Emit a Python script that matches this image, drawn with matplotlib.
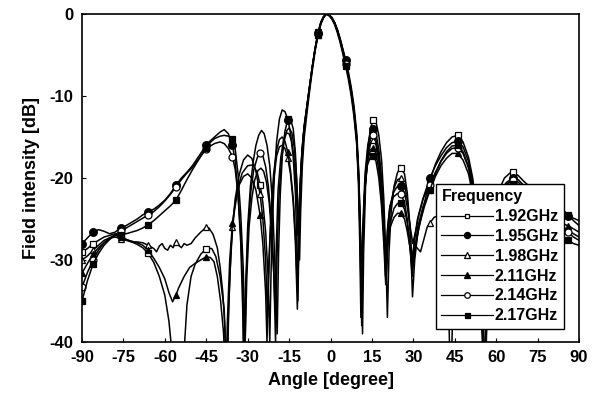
import matplotlib
matplotlib.use("Agg")
import matplotlib.pyplot as plt

plt.rcParams['font.family'] = ['Liberation Sans', 'DejaVu Sans']
plt.rcParams['font.weight'] = 'bold'
plt.rcParams['axes.unicode_minus'] = False

# angles [deg] / field intensity [dB]
pts_192 = [(-90, -29.0), (-88, -28.6), (-86, -28.0), (-84, -27.6), (-82, -27.2), (-80, -27.0), (-78, -26.8), (-76, -27.0),
           (-74, -27.5), (-72, -27.8), (-70, -28.1), (-68, -28.5), (-66, -29.2), (-64, -30.3), (-62, -32.0), (-60, -34.3),
           (-58.5, -37.5), (-57.5, -41), (-57, -46), (-53.5, -46), (-53, -41), (-52, -35.5), (-50.5, -32.0), (-49, -30.5),
           (-47, -29.3), (-45, -28.6), (-43, -28.6), (-41.5, -29.6), (-40, -32.0), (-38.5, -36.0), (-37.5, -46),
           (-36.8, -35), (-36, -28.5), (-35, -24.5), (-33.5, -21.2), (-32, -19.4), (-30, -18.5), (-28, -18.4), (-26.5, -19.4),
           (-25.5, -20.8), (-24.5, -23.0), (-23.5, -26.5), (-22.6, -32), (-22, -40),
           (-21.5, -31), (-21, -25), (-20.3, -19.5), (-19.5, -15.5), (-18.5, -12.8), (-17.5, -11.7), (-16.5, -11.9),
           (-15.5, -12.8), (-14.5, -14.5), (-13.5, -17.5), (-12.7, -22), (-12.2, -28), (-11.8, -35),
           (-11.4, -27), (-11, -21), (-10.3, -16.5), (-9.5, -13.5), (-8.5, -11.0), (-7.5, -8.6), (-6.5, -6.2), (-5.5, -4.0),
           (-4.5, -2.2), (-3.5, -1.0), (-2.5, -0.3), (-1.5, 0), (-0.5, -0.1), (0.5, -0.5), (1.5, -1.1), (2.5, -2.0),
           (3.5, -3.1), (4.5, -4.4), (5.5, -5.9), (6.5, -7.4), (7.5, -9.3), (8.5, -11.6), (9.5, -15.0), (10.2, -19.5),
           (10.8, -26), (11.3, -34), (11.6, -39),
           (12, -29), (12.7, -21), (13.5, -16.5), (14.5, -13.9), (15.5, -12.9), (16.5, -13.2), (17.5, -14.8), (18.5, -17.8),
           (19.3, -22.5), (20, -29), (20.6, -37),
           (21.2, -29), (22, -24), (23, -21), (24.3, -19.3), (25.5, -18.8), (26.8, -19.5), (27.8, -21.8), (28.8, -26), (29.7, -34.5),
           (30.5, -30), (31.5, -27), (33, -24.5), (34.5, -22.3), (36, -20.3), (38, -18.3), (40, -16.8), (42, -15.7),
           (44, -15.0), (46, -14.8), (48, -15.6), (50, -17.5), (51.5, -20), (53, -24), (54.3, -30), (55.3, -38), (55.8, -46),
           (56.5, -36), (57.5, -29), (59, -24.5), (61, -21.5), (63, -20), (65, -19.4), (66, -19.3), (68, -19.7), (70, -20.4),
           (72, -21), (74, -21.4), (76, -21.8), (78, -22.2), (80, -22.7), (82, -23.2), (84, -23.8), (86, -24.5), (88, -25.2), (90, -25.8)]

pts_195 = [(-90, -28.0), (-88, -27.3), (-86, -26.6), (-84, -26.3), (-82, -26.5), (-80, -26.8), (-78, -26.6), (-76, -26.1),
           (-74, -25.8), (-72, -25.4), (-70, -25.0), (-68, -24.5), (-66, -24.1), (-64, -23.8), (-62, -23.3), (-60, -22.7),
           (-58, -21.9), (-56, -20.9), (-54, -20.0), (-52, -19.3), (-50, -18.5), (-48, -17.5), (-46, -16.5), (-45, -16.0),
           (-44, -15.6), (-42, -15.0), (-40, -14.4), (-38.5, -14.1), (-37, -14.6), (-35.5, -16.0), (-34.5, -18.0),
           (-33.5, -22.0), (-32.5, -28.0), (-31.8, -36.0), (-31.3, -46),
           (-30.8, -34), (-30, -26), (-29, -21), (-28, -18), (-27, -16), (-26, -14.8), (-25, -14.2), (-24, -14.6),
           (-23, -16.0), (-22, -18.5), (-21, -23), (-20.3, -29), (-19.3, -39),
           (-18.8, -29), (-18.2, -22), (-17.4, -17), (-16.5, -14.3), (-15.5, -12.9), (-14.5, -12.8), (-13.5, -14),
           (-12.7, -17), (-12, -22), (-11.5, -29),
           (-11, -24), (-10.5, -18.5), (-9.5, -14.2), (-8.5, -11.5), (-7.5, -8.8), (-6.5, -6.3), (-5.5, -4.1), (-4.5, -2.3),
           (-3.5, -1.0), (-2.5, -0.3), (-1.5, 0), (-0.5, -0.1), (0.5, -0.4), (1.5, -1.0), (2.5, -1.9), (3.5, -3.0),
           (4.5, -4.3), (5.5, -5.6), (6.5, -7.1), (7.5, -8.9), (8.5, -11.2), (9.5, -14.5), (10.2, -19), (10.8, -26), (11.2, -33),
           (11.7, -26), (12.5, -19.5), (13.5, -16), (14.5, -14.3), (15.5, -14.0), (16.5, -14.6), (17.5, -16.5), (18.5, -20),
           (19.3, -25), (20, -31),
           (20.7, -26), (21.5, -23.5), (22.8, -21.8), (24, -21.1), (25.5, -21.0), (26.8, -21.8), (27.8, -23.5), (28.8, -25.8), (29.8, -28),
           (30.8, -26.5), (32, -24.5), (34, -22.0), (36, -20.0), (38, -18.5), (40, -17.3), (42, -16.3), (44, -15.7),
           (46, -15.5), (48, -16.2), (50, -18), (51.5, -20.5), (53, -24.5), (54.3, -30), (55.3, -37), (56, -46),
           (56.8, -35), (58, -28), (59.5, -24.5), (61.5, -22), (63.5, -20.6), (66, -20.0), (68, -20.2), (70, -20.9),
           (72, -21.6), (74, -22.1), (76, -22.6), (78, -23), (80, -23.4), (82, -23.8), (84, -24.2), (86, -24.6), (88, -24.9), (90, -25.2)]

pts_198 = [(-90, -30.0), (-88, -29.5), (-86, -28.8), (-84, -28.2), (-82, -27.6), (-80, -27.3), (-78, -27.2), (-76, -27.4),
           (-74, -27.6), (-72, -27.8), (-70, -27.8), (-68, -27.9), (-66, -28.2), (-64, -28.6), (-63, -29.0), (-62, -28.3),
           (-61, -28.0), (-60, -28.6), (-59, -28.8), (-58, -28.2), (-57, -28.5), (-56, -27.8), (-55, -28.2), (-54, -28.5),
           (-53, -28.0), (-52, -28.2), (-50.5, -28.0), (-49, -27.3), (-47, -26.6), (-45, -26.0), (-44, -26.1), (-42.5, -26.9),
           (-41, -28.5), (-40, -30.8), (-39, -34), (-38.2, -38.5), (-37.8, -46),
           (-37, -37), (-36.3, -31), (-35.5, -26), (-34.5, -22.5), (-33, -19.5), (-31.5, -17.8), (-30, -17.2), (-28.5, -17.6),
           (-27, -19.2), (-25.5, -22), (-24.5, -25), (-23.5, -30), (-22.8, -37),
           (-22.2, -30), (-21.5, -24.5), (-20.5, -20), (-19.5, -17.3), (-18.5, -16.2), (-17.5, -16.0), (-16.5, -16.4),
           (-15.5, -17.5), (-14.5, -19.5), (-13.5, -23), (-12.7, -28), (-12, -36),
           (-11.5, -28), (-11, -22), (-10.3, -17), (-9.5, -13.8), (-8.5, -11.2), (-7.5, -8.7), (-6.5, -6.3), (-5.5, -4.2),
           (-4.5, -2.5), (-3.5, -1.2), (-2.5, -0.4), (-1.5, 0), (-0.5, -0.1), (0.5, -0.5), (1.5, -1.1), (2.5, -2.0),
           (3.5, -3.2), (4.5, -4.5), (5.5, -6.0), (6.5, -7.5), (7.5, -9.4), (8.5, -11.8), (9.5, -15.2), (10.2, -20),
           (10.8, -27), (11.3, -36),
           (11.8, -28), (12.5, -21), (13.5, -17.5), (14.5, -15.8), (15.5, -15.4), (16.5, -16), (17.5, -18), (18.5, -21.5),
           (19.3, -26), (20.2, -33),
           (20.8, -27), (21.7, -23.5), (23, -21.2), (24.3, -20.2), (25.5, -20.0), (26.8, -20.8), (27.8, -22.6), (28.8, -26), (29.5, -30),
           (30.3, -28), (31.3, -28.5), (32.6, -29), (33.8, -27.5), (35, -26.0), (36, -25.5), (37.5, -24.8), (39, -24.6),
           (40.5, -25.5), (41.8, -29), (42.8, -36), (43.5, -46),
           (44.3, -36), (45.3, -30), (47, -26), (49, -24.5), (51, -25.5), (52.5, -28), (54, -33), (55, -40), (55.5, -46),
           (56.3, -37), (57.3, -30), (59, -25), (61, -22.3), (63, -21), (65, -20.5), (66, -20.4), (68, -20.8), (70, -21.5),
           (72, -22.3), (74, -23), (76, -23.6), (78, -24.2), (80, -24.8), (82, -25.4), (84, -25.9), (86, -26.4), (88, -26.8), (90, -27.2)]

pts_211 = [(-90, -31.6), (-88, -30.4), (-86, -29.3), (-84, -28.5), (-82, -27.9), (-80, -27.4), (-78, -27.0), (-76, -27.2),
           (-74, -27.5), (-72, -27.7), (-70, -27.9), (-68, -28.2), (-66, -28.8), (-64, -29.8), (-62, -30.9), (-60, -32.3),
           (-58.5, -34.0), (-57.2, -35.1), (-56, -34.3), (-55, -33.4), (-53, -32.0), (-51, -30.9), (-49, -30.4), (-47, -30.0),
           (-45, -29.6), (-43.5, -29.7), (-42.2, -30.2), (-41, -32), (-39.8, -35), (-38.7, -39), (-38, -46),
           (-37.3, -37), (-36.5, -30), (-35.5, -25.5), (-34.3, -22.5), (-33, -20.8), (-31.5, -19.8), (-30, -19.5),
           (-28.5, -20.0), (-27, -21.5), (-25.5, -24.5), (-24.5, -28), (-23.5, -34), (-23, -40),
           (-22.4, -31), (-21.6, -24.5), (-20.6, -19.5), (-19.5, -16.6), (-18.5, -15.3), (-17.5, -15.0), (-16.5, -15.5),
           (-15.5, -16.8), (-14.5, -19), (-13.5, -22.5), (-12.7, -27), (-12.1, -33),
           (-11.6, -27), (-11, -21), (-10.3, -16.8), (-9.5, -13.7), (-8.5, -11.1), (-7.5, -8.6), (-6.5, -6.2), (-5.5, -4.1),
           (-4.5, -2.4), (-3.5, -1.1), (-2.5, -0.4), (-1.5, 0), (-0.5, -0.2), (0.5, -0.6), (1.5, -1.2), (2.5, -2.1),
           (3.5, -3.3), (4.5, -4.7), (5.5, -6.2), (6.5, -7.7), (7.5, -9.6), (8.5, -12), (9.5, -15.5), (10.2, -20.5),
           (10.7, -27), (11.1, -35),
           (11.6, -28), (12.4, -21.5), (13.4, -18), (14.5, -16.6), (15.5, -16.3), (16.5, -17), (17.5, -19), (18.5, -22.5),
           (19.3, -27), (20, -30),
           (20.7, -28), (21.6, -26), (23, -24.8), (24.3, -24.3), (25.5, -24.3), (26.8, -25), (27.8, -26.5), (28.8, -28.5), (29.8, -30.5),
           (30.8, -28.5), (32, -26), (34, -23.5), (36, -21.5), (38, -19.8), (40, -18.5), (42, -17.6), (44, -17.0),
           (46, -17.0), (48, -17.8), (50, -19.5), (51.5, -22), (53, -26), (54.2, -31), (55.2, -38), (55.8, -46),
           (56.6, -37), (57.7, -30), (59.3, -25.5), (61.3, -22.8), (63.5, -21.3), (66, -20.8), (68, -21), (70, -21.6),
           (72, -22.3), (74, -23), (76, -23.6), (78, -24.2), (80, -24.8), (82, -25.3), (84, -25.6), (86, -25.8), (88, -26.2), (90, -26.6)]

pts_214 = [(-90, -33.3), (-88, -31.5), (-86, -30.0), (-84, -28.8), (-82, -27.9), (-80, -27.3), (-78, -26.9), (-76, -26.5),
           (-74, -26.1), (-72, -25.7), (-70, -25.3), (-68, -24.9), (-66, -24.5), (-64, -24.1), (-62, -23.5), (-60, -22.8),
           (-58, -22), (-56, -21.1), (-54, -20.2), (-52, -19.4), (-50, -18.7), (-48, -17.8), (-46, -16.9), (-45, -16.5),
           (-44, -16.2), (-42, -15.8), (-40, -15.6), (-38.5, -15.8), (-37, -16.4), (-35.5, -17.4), (-34.5, -19),
           (-33.5, -22), (-32.5, -27), (-31.7, -34), (-31.2, -46),
           (-30.6, -33), (-29.8, -26), (-28.8, -21.5), (-27.8, -19), (-26.5, -17.5), (-25.5, -17.0), (-24.5, -17.3),
           (-23.5, -18.6), (-22.5, -21), (-21.5, -25), (-20.7, -30), (-20.1, -36),
           (-19.6, -28), (-19, -21.5), (-18, -17.5), (-17, -15.3), (-16, -14.5), (-15, -14.6), (-14, -15.6), (-13, -18),
           (-12.3, -22), (-11.8, -27),
           (-11.3, -23), (-10.6, -18), (-9.8, -14.6), (-8.8, -12), (-7.8, -9.5), (-6.8, -7), (-5.8, -4.7), (-4.5, -2.4),
           (-3.5, -1.1), (-2.5, -0.4), (-1.5, 0), (-0.5, -0.1), (0.5, -0.5), (1.5, -1.1), (2.5, -2.0), (3.5, -3.1),
           (4.5, -4.5), (5.5, -6.1), (6.5, -7.6), (7.5, -9.5), (8.5, -11.9), (9.5, -15.3), (10.2, -20.3), (10.8, -28), (11.3, -38),
           (11.8, -28), (12.6, -20.5), (13.5, -17), (14.5, -15.2), (15.5, -14.8), (16.5, -15.4), (17.5, -17.3), (18.5, -21),
           (19.3, -26), (19.9, -32),
           (20.6, -26.5), (21.5, -23.5), (22.8, -22.3), (24.2, -21.9), (25.5, -22.0), (26.8, -23), (27.8, -25), (28.7, -28), (29.5, -31),
           (30.3, -28), (31.5, -25), (33.5, -22.5), (36, -20.8), (38, -19.3), (40, -18.0), (42, -17.0), (44, -16.4),
           (46, -16.3), (48, -17), (50, -18.8), (51.5, -21.5), (53, -25.5), (54.3, -31), (55.3, -38), (55.8, -46),
           (56.6, -36), (57.7, -29), (59.3, -25), (61.3, -22.3), (63.5, -20.8), (66, -20.3), (68, -20.5), (70, -21.2),
           (72, -21.9), (74, -22.6), (76, -23.3), (78, -24), (80, -24.6), (82, -25.2), (84, -25.8), (86, -26.6), (88, -27.2), (90, -27.6)]

pts_217 = [(-90, -35.0), (-88, -32.5), (-86, -30.5), (-84, -29.2), (-82, -28.2), (-80, -27.5), (-78, -27.0), (-76, -26.9),
           (-74, -26.8), (-72, -26.6), (-70, -26.4), (-68, -26.1), (-66, -25.7), (-64, -25.2), (-62, -24.6), (-60, -24.0),
           (-58, -23.4), (-56, -22.7), (-54, -21.5), (-52, -20.2), (-50, -19.0), (-48, -17.9), (-46, -16.8), (-45, -16.3),
           (-44, -15.8), (-42, -15.2), (-40, -14.9), (-38.5, -14.8), (-37, -14.9), (-35.5, -15.2), (-34.5, -16.5),
           (-33.5, -19.5), (-32.5, -24.5), (-31.6, -31), (-30.9, -40),
           (-30.3, -32), (-29.5, -26), (-28.5, -22.5), (-27.5, -20.3), (-26.3, -19.1), (-25.2, -18.8), (-24.2, -19.2),
           (-23.2, -20.5), (-22.2, -23), (-21.3, -27), (-20.5, -32), (-19.9, -40),
           (-19.4, -30), (-18.7, -22.5), (-17.8, -18), (-16.8, -15.5), (-15.8, -14.2), (-15, -13.9), (-14, -14.5),
           (-13, -16.5), (-12.3, -20), (-11.7, -25), (-11.2, -30),
           (-10.8, -24), (-10.2, -18.5), (-9.5, -15), (-8.5, -12), (-7.5, -9.2), (-6.5, -6.7), (-5.5, -4.4), (-4.5, -2.6),
           (-3.5, -1.2), (-2.5, -0.4), (-1.5, 0), (-0.5, -0.2), (0.5, -0.6), (1.5, -1.3), (2.5, -2.3), (3.5, -3.5),
           (4.5, -4.9), (5.5, -6.4), (6.5, -8.0), (7.5, -10), (8.5, -12.5), (9.5, -16), (10.1, -20.5), (10.6, -28), (11, -37),
           (11.5, -29), (12.3, -22), (13.3, -18.5), (14.4, -17.5), (15.5, -17.3), (16.5, -18), (17.5, -20), (18.5, -23.5),
           (19.3, -28), (20, -33),
           (20.7, -28.5), (21.6, -25.5), (23, -23.7), (24.3, -23.1), (25.5, -23.0), (26.8, -23.8), (27.8, -25.5), (28.8, -28.5), (29.6, -32),
           (30.4, -29), (31.6, -26), (33.5, -23.5), (36, -21.5), (38, -19.5), (40, -17.9), (42, -16.8), (44, -16.1),
           (46, -16.0), (48, -16.8), (50, -18.6), (51.5, -21.2), (53, -25), (54.2, -30), (55.2, -37), (55.8, -46),
           (56.6, -36), (57.7, -29), (59.3, -25), (61.3, -22.5), (63.5, -21.2), (66, -20.7), (68, -21), (70, -21.8),
           (72, -22.6), (74, -23.4), (76, -24.2), (78, -25), (80, -25.8), (82, -26.5), (84, -27.1), (86, -27.6), (88, -28), (90, -28.2)]

labels = ['1.92GHz', '1.95GHz', '1.98GHz', '2.11GHz', '2.14GHz', '2.17GHz']
curves = [pts_192, pts_195, pts_198, pts_211, pts_214, pts_217]
markers = ['s', 'o', '^', '^', 'o', 's']
filled = [False, True, False, True, False, True]
msizes = [4, 5.5, 5, 5, 5, 4.5]
mark_angles = [-90, -86, -76, -66, -56, -45, -35.5, -25.5, -15.5, -4.5, 5.5, 15.5, 25.5, 36, 46, 66, 76, 86]

fig = plt.figure(figsize=(5.96, 3.98), dpi=100)
ax = fig.add_axes([82 / 596, 1 - 342 / 398, 497 / 596, 328 / 398])

for pts, lab, m, f, ms in zip(curves, labels, markers, filled, msizes):
    ang = [p[0] for p in pts]
    db = [p[1] for p in pts]
    idx = [i for i, a in enumerate(ang) if a in mark_angles]
    ax.plot(ang, db, color='black', lw=1.1, marker=m, ms=ms, markevery=idx,
            mfc='black' if f else 'white', mec='black', mew=0.9, label=lab)

ax.set_xlim(-90, 90)
ax.set_ylim(-40, 0)
ax.set_xticks(range(-90, 91, 15))
ax.set_yticks([0, -10, -20, -30, -40])
ax.tick_params(direction='in', length=3, width=0.8, labelsize=12, pad=6)
for lbl in ax.get_xticklabels() + ax.get_yticklabels():
    lbl.set_fontweight('bold')
for sp in ax.spines.values():
    sp.set_linewidth(1.2)

ax.set_xlabel('Angle [degree]', fontsize=13, fontweight='bold', labelpad=5)
ax.set_ylabel('Field intensity [dB]', fontsize=13, fontweight='bold', labelpad=7)

leg = ax.legend(loc='upper left', bbox_to_anchor=(0.712, 0.482), title='Frequency',
                fontsize=11.5, title_fontproperties={'weight': 'bold', 'size': 11.5},
                frameon=True, fancybox=False, framealpha=1, edgecolor='black',
                handlelength=3.2, handletextpad=0.15, labelspacing=0.3, borderpad=0.35,
                borderaxespad=0, alignment='left', markerscale=0.8)
leg.get_frame().set_linewidth(1.0)
for t in leg.get_texts():
    t.set_fontweight('bold')
for h in leg.get_lines():
    h.set_linewidth(0.9)

fig.savefig('out.png', dpi=100)
